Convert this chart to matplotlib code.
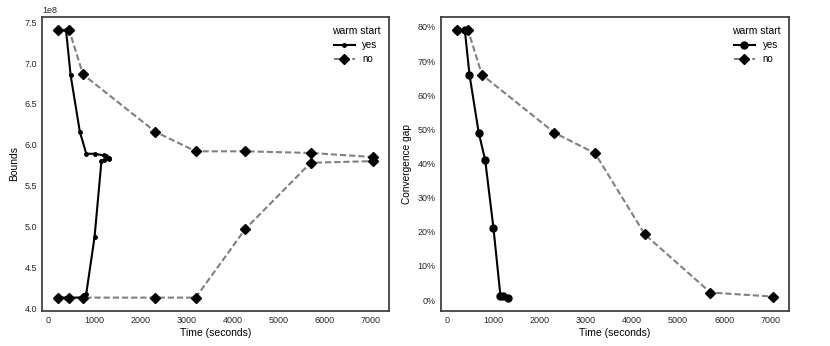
import numpy as np
import matplotlib.pyplot as plt
from matplotlib.ticker import PercentFormatter

plt.rcParams['font.family'] = ['Liberation Sans', 'DejaVu Sans']

# warm start = yes
yes_up_t = [200, 380, 480, 680, 820, 1000, 1200, 1250, 1310]
yes_up_b = [7.40e8, 7.40e8, 6.85e8, 6.16e8, 5.89e8, 5.89e8, 5.87e8, 5.86e8, 5.84e8]
yes_lo_t = [200, 380, 750, 820, 1000, 1150, 1200, 1310]
yes_lo_b = [4.13e8, 4.13e8, 4.13e8, 4.18e8, 4.87e8, 5.80e8, 5.81e8, 5.82e8]
yes_gap_t = [200, 380, 480, 680, 820, 1000, 1150, 1200, 1310]
yes_gap = [79, 79, 66, 49, 41, 21, 1.3, 1.2, 0.7]

# warm start = no
no_up_t = [200, 450, 750, 2320, 3200, 4280, 5700, 7060]
no_up_b = [7.40e8, 7.40e8, 6.86e8, 6.16e8, 5.92e8, 5.92e8, 5.90e8, 5.85e8]
no_lo_t = [200, 450, 750, 2320, 3200, 4280, 5700, 7060]
no_lo_b = [4.13e8, 4.13e8, 4.13e8, 4.13e8, 4.13e8, 4.97e8, 5.78e8, 5.80e8]
no_gap_t = [200, 450, 750, 2320, 3200, 4280, 5700, 7060]
no_gap = [79, 79, 66, 49, 43, 19.2, 2.2, 1.0]

fig = plt.figure(figsize=(8.3, 3.46), dpi=100)
ax1 = fig.add_axes([0.0506, 0.1012, 0.418, 0.8497])
ax2 = fig.add_axes([0.531, 0.1012, 0.4196, 0.8497])

no_kw = dict(color='grey', ls='--', lw=1.5, dashes=(3, 1.4), marker='D', ms=5.5,
             mfc='black', mec='black')

# bounds
ax1.plot(no_up_t, no_up_b, label='no', **no_kw)
ax1.plot(no_lo_t, no_lo_b, **no_kw)
ax1.plot(yes_up_t, yes_up_b, color='black', lw=1.5, marker='.', ms=5, label='yes')
ax1.plot(yes_lo_t, yes_lo_b, color='black', lw=1.5, marker='.', ms=5)
ax1.set_ylabel('Bounds', fontsize=7.5)

# gap
ax2.plot(no_gap_t, no_gap, label='no', **no_kw)
ax2.plot(yes_gap_t, yes_gap, color='black', lw=1.5, marker='o', ms=5, label='yes')
ax2.yaxis.set_major_formatter(PercentFormatter(decimals=0))
ax2.set_ylabel('Convergence gap', fontsize=7.3)

for ax in (ax1, ax2):
    ax.set_xlabel('Time (seconds)', fontsize=7.5, labelpad=2)
    ax.set_xticks(range(0, 8000, 1000))
    ax.tick_params(length=0, labelsize=6.5, pad=3.5, colors='#262626')
    for s in ax.spines.values():
        s.set_color('#3a3a3a')
        s.set_linewidth(1.25)
    h, l = ax.get_legend_handles_labels()
    ax.legend(h[::-1], l[::-1], title='warm start', loc='upper right', frameon=False,
              fontsize=7, title_fontsize=7.5, handlelength=2.1, borderaxespad=0.5,
              labelspacing=0.45)
ax1.yaxis.get_offset_text().set_fontsize(6.5)

fig.savefig('out.png', dpi=100)
